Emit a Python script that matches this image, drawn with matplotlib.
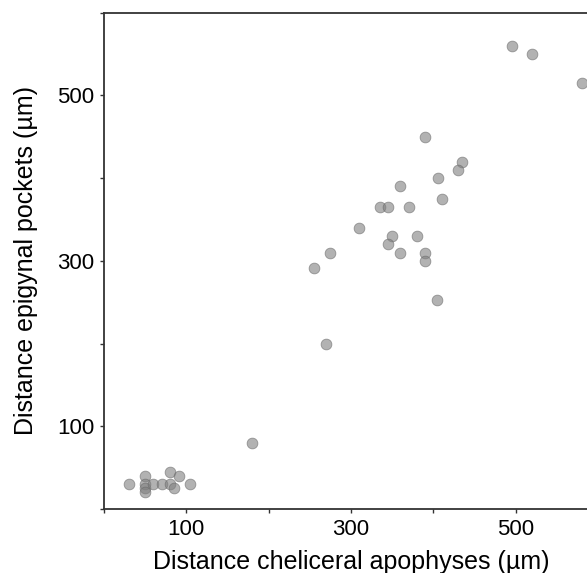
import numpy as np
import matplotlib
matplotlib.use("Agg")
import matplotlib.pyplot as plt

plt.rcParams['font.family'] = ['Liberation Sans', 'DejaVu Sans']

# Distance cheliceral apophyses (um) vs distance epigynal pockets (um)
chel_dist = [495, 520, 580, 390, 435, 430, 406, 360, 410, 335, 345, 370,
             310, 350, 380, 345, 275, 360, 390, 390, 255, 405, 270, 180,
             30, 50, 50, 50, 50, 60, 70, 80, 80, 85, 91, 105]
epig_dist = [560, 550, 515, 450, 420, 410, 400, 391, 375, 365, 365, 365,
             340, 330, 330, 320, 310, 310, 310, 300, 291, 253, 200, 80,
             30, 40, 30, 25, 20, 30, 30, 45, 30, 25, 40, 30]
tick_vals = [0, 100, 200, 300, 400, 500, 600]
tick_text = ['', '100', '', '300', '', '500', '']

fig = plt.figure(figsize=(5.87, 5.73), dpi=100)
# right spine sits just past the figure edge, as in the cropped original
ax = fig.add_axes([0.1772, 0.1117, 0.8416, 0.866])

ax.scatter(chel_dist, epig_dist, s=60, color='#7f7f7f', alpha=0.6,
           edgecolors='#666666', linewidths=0.6, zorder=3)

ax.set_xlim(0, 600)
ax.set_ylim(0, 600)
ax.set_xticks(tick_vals)
ax.set_xticklabels(tick_text)
ax.set_yticks(tick_vals)
ax.set_yticklabels(tick_text)
ax.tick_params(direction='out', length=3, width=1, colors='#333333',
               labelcolor='black', labelsize=16, pad=4)

for side in ['left', 'bottom', 'top', 'right']:
    ax.spines[side].set_color('#333333')
    ax.spines[side].set_linewidth(1.3)

ax.set_xlabel('Distance cheliceral apophyses (µm)', fontsize=18, labelpad=7.5)
ax.set_ylabel('Distance epigynal pockets (µm)', fontsize=18, labelpad=14)

fig.savefig('out.png', dpi=100)
